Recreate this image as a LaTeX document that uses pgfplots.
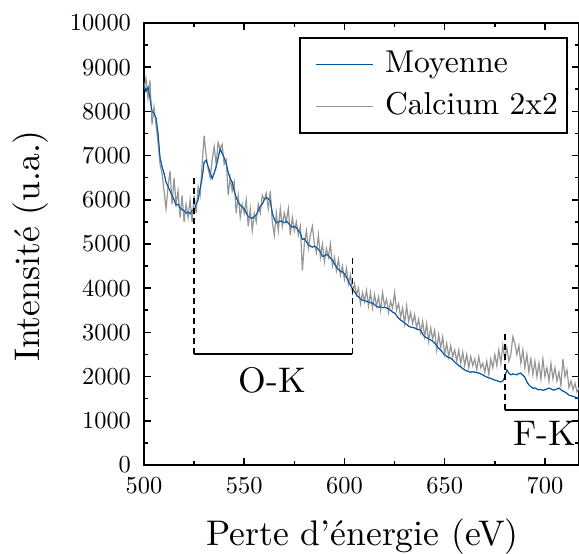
\documentclass[border=0pt]{standalone}
\usepackage{fontspec}
\setmainfont{lmroman10-regular.otf}[BoldFont=lmroman10-bold.otf, ItalicFont=lmroman10-italic.otf]
\usepackage{pgfplots}
\usepackage{pgfplotstable}
\pgfplotsset{compat=1.18}
\usetikzlibrary{calc}
\definecolor{moyblue}{RGB}{0,84,166}
\definecolor{calgray}{RGB}{150,150,150}

\pgfplotstableread{
x y
500 8600
501 8450
502 8550
503 8300
504 8000
505 7950
506 7850
507 7500
508 6950
509 6750
510 6600
511 6400
512 6300
513 6200
514 6100
515 6000
516 5880
517 5900
518 5820
519 5780
520 5750
521 5700
522 5720
523 5680
524 5760
525 5750
526 5900
527 6000
528 6250
529 6500
530 6850
531 6900
532 6750
533 6620
534 6480
535 6600
536 6750
537 6950
538 7150
539 7050
540 6950
541 6820
542 6620
543 6480
544 6400
545 6200
546 6050
547 5950
548 5880
549 5830
550 5800
551 5700
552 5620
553 5600
554 5580
555 5620
556 5660
557 5750
558 5850
559 5900
560 6000
561 6050
562 6020
563 5980
564 5700
565 5560
566 5480
567 5500
568 5520
569 5500
570 5480
571 5520
572 5470
573 5420
574 5380
575 5400
576 5370
577 5300
578 5250
579 5100
580 5120
581 5050
582 4980
583 4950
584 4930
585 4950
586 4920
587 4880
588 4820
589 4720
590 4730
591 4760
592 4740
593 4680
594 4630
595 4550
596 4480
597 4420
598 4380
599 4370
600 4320
601 4250
602 4150
603 4070
604 3980
605 3920
606 3850
607 3800
608 3760
609 3730
610 3720
611 3700
612 3690
613 3670
614 3660
615 3630
616 3590
617 3570
618 3580
619 3560
620 3570
621 3550
622 3530
623 3500
624 3460
625 3440
626 3380
627 3320
628 3280
629 3250
630 3210
631 3180
632 3140
633 3120
634 3110
635 3100
636 3080
637 3060
638 3050
639 2960
640 2900
641 2880
642 2850
643 2830
644 2800
645 2760
646 2700
647 2640
648 2600
649 2540
650 2490
651 2460
652 2430
653 2420
654 2380
655 2330
656 2290
657 2250
658 2220
659 2180
660 2150
661 2130
662 2110
663 2100
664 2110
665 2100
666 2090
667 2080
668 2060
669 2040
670 2010
671 1990
672 1970
673 1960
674 1940
675 1920
676 1910
677 1890
678 1880
679 1900
680 1990
681 2150
682 2080
683 2040
684 2060
685 2050
686 2040
687 2070
688 2080
689 2030
690 1990
691 1880
692 1810
693 1770
694 1740
695 1740
696 1720
697 1700
698 1710
699 1690
700 1700
701 1720
702 1740
703 1720
704 1700
705 1700
706 1720
707 1740
708 1700
709 1670
710 1650
711 1620
712 1580
713 1570
714 1550
715 1540
716 1520
717 1510
}\moyenne

\pgfplotstableread{
x y
500 8500
501 8750
502 8300
503 8700
504 7700
505 8100
506 7700
507 7300
508 6800
509 6600
510 6200
511 5800
512 6300
513 6650
514 5900
515 6500
516 5900
517 6200
518 5600
519 6100
520 5500
521 5900
522 5600
523 6000
524 5500
525 6100
526 5700
527 6300
528 6100
529 6800
530 7450
531 7000
532 6700
533 6500
534 6900
535 7200
536 6800
537 7300
538 7150
539 7250
540 6800
541 6900
542 6100
543 6500
544 6200
545 6400
546 5700
547 6100
548 5600
549 5900
550 5700
551 6000
552 5400
553 5800
554 5300
555 5700
556 5500
557 5900
558 5700
559 6100
560 6000
561 6150
562 5800
563 6200
564 5500
565 5200
566 5700
567 5300
568 5800
569 5400
570 5700
571 5500
572 5800
573 5200
574 5600
575 5300
576 5500
577 5200
578 5400
579 4400
580 5000
581 5300
582 4900
583 5200
584 5400
585 5000
586 4800
587 5200
588 4700
589 5000
590 4600
591 4900
592 4700
593 5000
594 4500
595 4700
596 4400
597 4650
598 4300
599 4500
600 4200
601 4450
602 4100
603 4300
604 3900
605 4100
606 3850
607 4000
608 3650
609 3900
610 3700
611 3950
612 3600
613 3900
614 3550
615 3850
616 3600
617 3800
618 3500
619 3900
620 3600
621 3750
622 3450
623 3700
624 3550
625 3900
626 3500
627 3650
628 3350
629 3550
630 3200
631 3600
632 3250
633 3450
634 3200
635 3400
636 3100
637 3300
638 3000
639 3250
640 2900
641 3200
642 2800
643 3100
644 2850
645 3050
646 2600
647 2950
648 2650
649 2900
650 2500
651 2750
652 2450
653 2700
654 2450
655 2600
656 2350
657 2600
658 2300
659 2550
660 2250
661 2500
662 2200
663 2450
664 2250
665 2400
666 2150
667 2450
668 2200
669 2300
670 2100
671 2350
672 2050
673 2400
674 2200
675 2500
676 2250
677 2600
678 2300
679 2700
680 2400
681 2650
682 2350
683 2500
684 2900
685 2750
686 2500
687 2700
688 2300
689 2600
690 2200
691 2500
692 2100
693 2400
694 2050
695 2350
696 2000
697 2300
698 1950
699 2400
700 2000
701 2200
702 1900
703 2300
704 1950
705 2200
706 1900
707 2100
708 1800
709 2400
710 2000
711 2150
712 1750
713 1900
714 1700
715 1850
716 1650
717 1750
}\calcium

\begin{document}
\begin{tikzpicture}
\begin{axis}[
  name=main,
  width=217.5pt, height=221pt, scale only axis,
  xmin=500, xmax=717, ymin=0, ymax=10000,
  xtick={500,550,600,650,700},
  ytick={0,1000,...,10000},
  minor x tick num=1, minor y tick num=1,
  tick align=inside,
  major tick length=3.5pt, minor tick length=2pt,
  every tick/.style={black, line width=0.8pt},
  axis line style={line width=1pt},
  scaled y ticks=false,
  /pgf/number format/assume math mode=true,
  y tick label style={/pgf/number format/1000 sep={}, xshift=-3pt},
  x tick label style={yshift=-2.5pt},
  tick label style={font=\fontsize{12.2}{15}\selectfont},
  xlabel={Perte d'énergie (eV)},
  ylabel={Intensité (u.a.)},
  label style={font=\fontsize{17.8}{21}\selectfont},
  xlabel style={at={($(rel axis cs:0.5,0)+(0.5pt,-36pt)$)}, anchor=center},
  ylabel style={at={($(rel axis cs:0,0.5)+(-56.5pt,-1pt)$)}, anchor=center},
  legend style={at={(rel axis cs:1,1)}, xshift=-5.5pt, yshift=-7pt,
    anchor=north east,
    font=\fontsize{15.8}{19}\selectfont, line width=1pt,
    inner xsep=2.5pt, inner ysep=4pt, row sep=2.5pt,
    nodes={text height=11.5pt, text depth=3pt, inner sep=2pt},
    /tikz/every odd column/.append style={column sep=3.5pt}},
  legend cell align=left,
  legend image code/.code={\path (0pt,0pt); \draw[#1] (5.5pt,0pt) -- (34pt,0pt);},
  clip=true,
]
\addplot[draw=moyblue, line width=0.45pt] table[x=x,y=y] {\moyenne};
\addlegendentry{Moyenne}
\addplot[draw=calgray, line width=0.6pt] table[x=x,y=y] {\calcium};
\addlegendentry{Calcium 2x2}
\addplot[draw=moyblue, line width=0.45pt, forget plot] table[x=x,y=y] {\moyenne};
% annotations
\draw[line width=0.8pt, dash pattern=on 3pt off 2pt] (axis cs:525,2500) -- (axis cs:525,6500);
\draw[line width=0.8pt, dash pattern=on 3pt off 2pt] (axis cs:604,2500) -- (axis cs:604,4750);
\draw[line width=1pt] (axis cs:525,2500) -- (axis cs:604,2500);
\node[font=\fontsize{17.8}{21}\selectfont] at (axis cs:564,1920) {O-K};
\draw[line width=0.8pt, dash pattern=on 3pt off 2pt] (axis cs:680,1250) -- (axis cs:680,3000);
\draw[line width=1pt] (axis cs:680,1250) -- (axis cs:720,1250);
\node[font=\fontsize{17.8}{21}\selectfont] at (axis cs:700,720) {F-K};
\end{axis}
\pgfresetboundingbox
\path[use as bounding box] ($(main.south west)+(-72pt,-44.5pt)$) rectangle ($(main.north east)+(0pt,11.5pt)$);
\end{tikzpicture}
\end{document}
